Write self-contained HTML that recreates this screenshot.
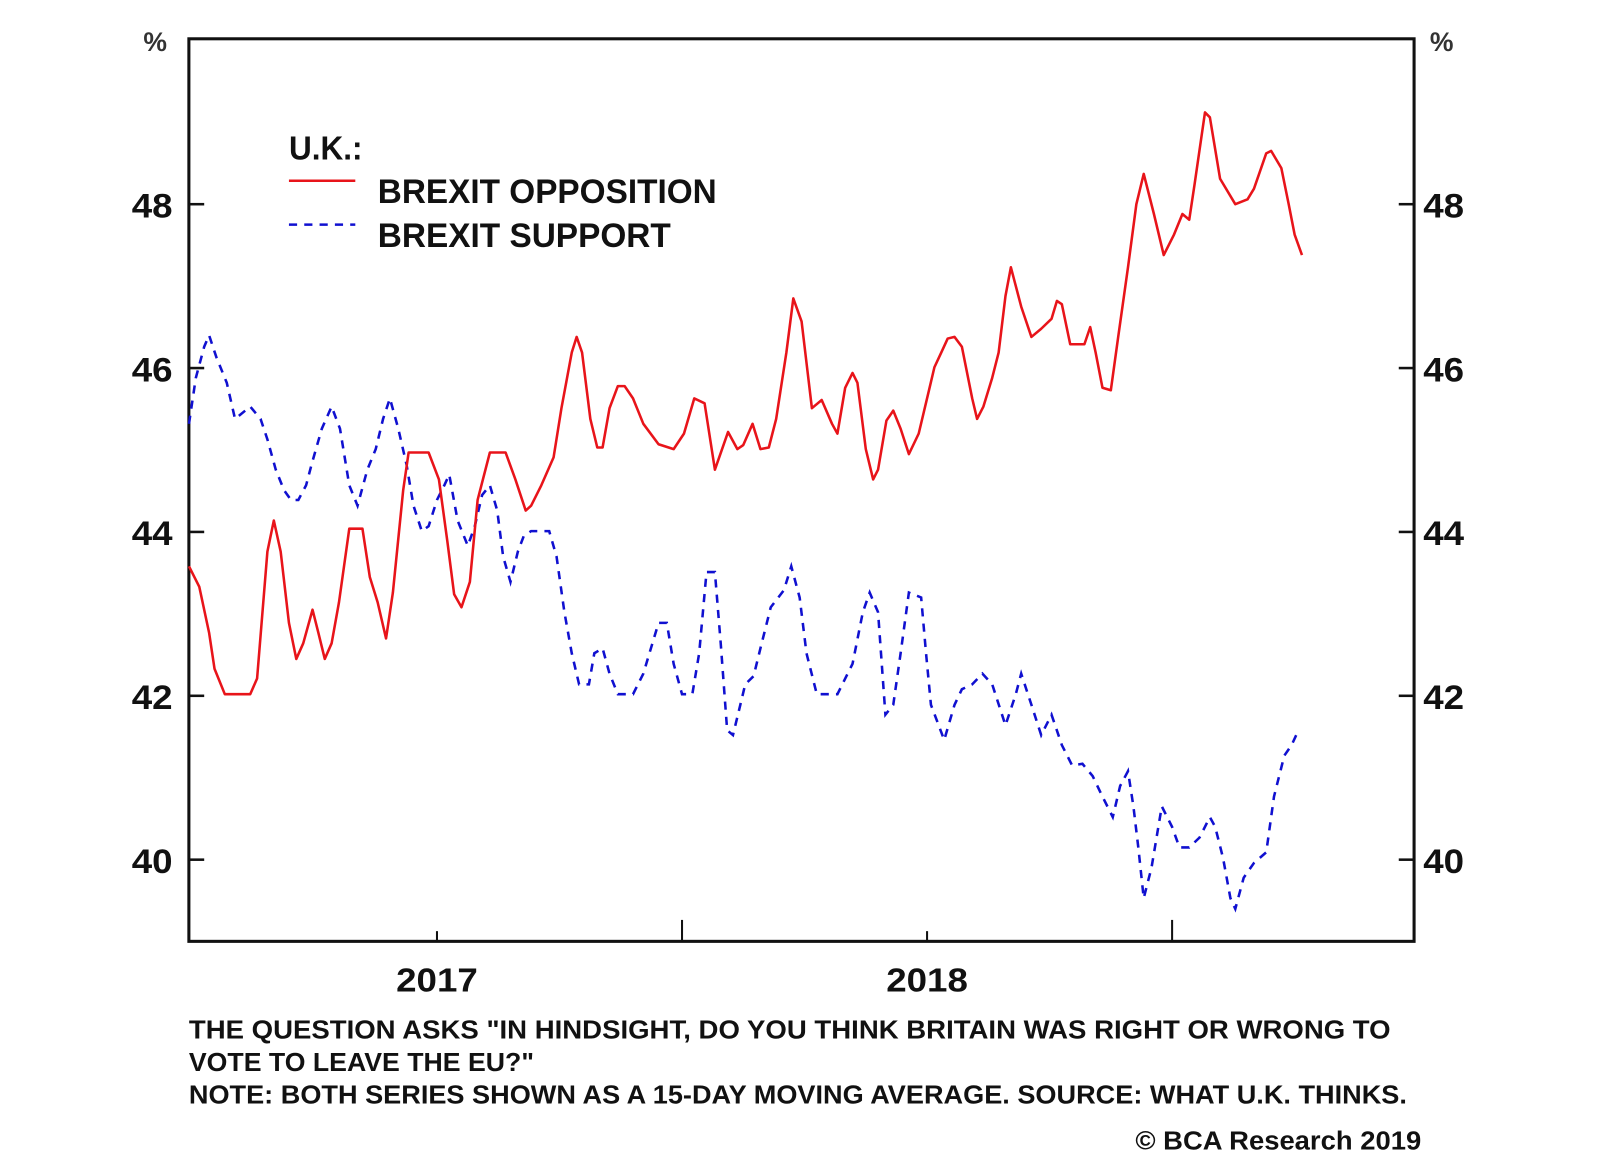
<!DOCTYPE html>
<html><head><meta charset="utf-8"><style>
html,body{margin:0;padding:0;background:#fff;}
svg{display:block;font-family:"Liberation Sans",Arial,sans-serif;font-weight:bold;}
</style></head><body>
<svg id="chart" width="1600" height="1153" viewBox="0 0 1567.1 1129.3" preserveAspectRatio="none" xmlns="http://www.w3.org/2000/svg">
<rect width="1567.1" height="1129.3" fill="#fff"/>
<g id="axes"></g>
<g id="series"></g>
<g>
  <text x="283" y="156" font-size="33" textLength="72" lengthAdjust="spacingAndGlyphs" fill="#111">U.K.:</text>
  <line x1="283" y1="177" x2="348" y2="177" stroke="#e8141a" stroke-width="2.5"/>
  <text x="370" y="199" font-size="34" textLength="332" lengthAdjust="spacingAndGlyphs" fill="#111">BREXIT OPPOSITION</text>
  <line x1="283" y1="220" x2="348" y2="220" stroke="#1010d0" stroke-width="2.5" stroke-dasharray="8,7"/>
  <text x="370" y="242" font-size="34" textLength="287" lengthAdjust="spacingAndGlyphs" fill="#111">BREXIT SUPPORT</text>
</g>
<g fill="#111" font-size="25">
  <text x="185" y="1017" textLength="1177" lengthAdjust="spacingAndGlyphs">THE QUESTION ASKS "IN HINDSIGHT, DO YOU THINK BRITAIN WAS RIGHT OR WRONG TO</text>
  <text x="185" y="1049" textLength="338" lengthAdjust="spacingAndGlyphs">VOTE TO LEAVE THE EU?"</text>
  <text x="185" y="1081" textLength="1193" lengthAdjust="spacingAndGlyphs">NOTE: BOTH SERIES SHOWN AS A 15-DAY MOVING AVERAGE. SOURCE: WHAT U.K. THINKS.</text>
  <text x="1112" y="1126" textLength="280" lengthAdjust="spacingAndGlyphs">© BCA Research 2019</text>
</g>
</svg>
<script>
const yTicks = [40, 42, 44, 46, 48];
const xTickMajor = [2017.0, 2018.0];
const xTickLabels = ["2017", "2018"];
const xTickMinor = [2017.5, 2018.5];
const oppDates = [2016.494,2016.515,2016.535,2016.546,2016.567,2016.619,2016.633,2016.654,2016.667,2016.681,2016.698,2016.713,2016.727,2016.746,2016.758,2016.771,2016.785,2016.800,2016.821,2016.848,2016.863,2016.879,2016.896,2016.910,2016.931,2016.942,2016.983,2017.004,2017.021,2017.035,2017.050,2017.067,2017.083,2017.108,2017.140,2017.160,2017.181,2017.192,2017.213,2017.238,2017.254,2017.275,2017.285,2017.296,2017.313,2017.327,2017.338,2017.352,2017.369,2017.383,2017.400,2017.421,2017.452,2017.483,2017.504,2017.525,2017.546,2017.567,2017.594,2017.613,2017.625,2017.644,2017.660,2017.677,2017.692,2017.713,2017.727,2017.744,2017.765,2017.785,2017.806,2017.817,2017.833,2017.848,2017.858,2017.875,2017.890,2017.900,2017.917,2017.931,2017.946,2017.963,2017.983,2018.004,2018.015,2018.029,2018.042,2018.056,2018.071,2018.092,2018.102,2018.115,2018.133,2018.146,2018.160,2018.171,2018.192,2018.213,2018.233,2018.254,2018.265,2018.275,2018.292,2018.321,2018.333,2018.344,2018.358,2018.375,2018.390,2018.410,2018.427,2018.442,2018.463,2018.483,2018.504,2018.521,2018.535,2018.546,2018.567,2018.577,2018.598,2018.629,2018.654,2018.667,2018.692,2018.702,2018.723,2018.738,2018.750,2018.765];
const oppValues = [43.58,43.33,42.77,42.33,42.02,42.02,42.21,43.76,44.14,43.76,42.89,42.45,42.64,43.05,42.77,42.45,42.64,43.14,44.04,44.04,43.45,43.14,42.70,43.26,44.51,44.97,44.97,44.64,43.89,43.24,43.08,43.39,44.39,44.97,44.97,44.64,44.26,44.32,44.57,44.91,45.51,46.19,46.38,46.19,45.38,45.03,45.03,45.51,45.78,45.78,45.63,45.32,45.07,45.01,45.20,45.63,45.57,44.76,45.22,45.01,45.06,45.32,45.01,45.03,45.38,46.19,46.85,46.57,45.51,45.61,45.32,45.20,45.76,45.94,45.82,45.01,44.64,44.76,45.36,45.48,45.26,44.95,45.20,45.73,46.01,46.19,46.36,46.38,46.26,45.63,45.38,45.53,45.88,46.19,46.88,47.23,46.75,46.38,46.48,46.60,46.82,46.78,46.29,46.29,46.50,46.19,45.76,45.73,46.38,47.23,48.00,48.37,47.88,47.38,47.63,47.88,47.81,48.25,49.12,49.06,48.31,48.00,48.06,48.19,48.62,48.65,48.44,48.00,47.63,47.38];
const supDates = [2016.494,2016.508,2016.525,2016.535,2016.550,2016.571,2016.588,2016.619,2016.640,2016.654,2016.671,2016.688,2016.702,2016.717,2016.733,2016.744,2016.765,2016.785,2016.802,2016.821,2016.838,2016.858,2016.875,2016.890,2016.904,2016.921,2016.938,2016.952,2016.969,2016.983,2017.000,2017.015,2017.025,2017.042,2017.063,2017.077,2017.092,2017.108,2017.123,2017.135,2017.150,2017.165,2017.177,2017.192,2017.229,2017.244,2017.260,2017.275,2017.290,2017.310,2017.321,2017.338,2017.352,2017.369,2017.400,2017.421,2017.452,2017.469,2017.483,2017.500,2017.521,2017.535,2017.550,2017.567,2017.579,2017.592,2017.604,2017.619,2017.629,2017.646,2017.660,2017.681,2017.708,2017.723,2017.740,2017.754,2017.775,2017.817,2017.848,2017.869,2017.883,2017.900,2017.915,2017.931,2017.946,2017.963,2017.988,2017.998,2018.008,2018.035,2018.056,2018.071,2018.092,2018.113,2018.133,2018.160,2018.181,2018.192,2018.213,2018.233,2018.254,2018.275,2018.296,2018.317,2018.338,2018.358,2018.379,2018.394,2018.410,2018.421,2018.431,2018.442,2018.458,2018.479,2018.500,2018.515,2018.535,2018.556,2018.577,2018.588,2018.604,2018.619,2018.629,2018.646,2018.667,2018.692,2018.708,2018.729,2018.744,2018.758];
const supValues = [45.32,45.88,46.26,46.40,46.13,45.82,45.38,45.53,45.38,45.13,44.76,44.51,44.39,44.39,44.57,44.82,45.26,45.53,45.26,44.57,44.32,44.76,45.01,45.38,45.63,45.26,44.82,44.32,44.01,44.07,44.39,44.57,44.70,44.14,43.83,44.07,44.45,44.57,44.26,43.70,43.39,43.76,43.95,44.01,44.01,43.70,43.02,42.52,42.14,42.14,42.52,42.58,42.27,42.02,42.02,42.27,42.89,42.89,42.39,42.02,42.02,42.52,43.51,43.51,42.64,41.58,41.52,41.89,42.14,42.24,42.58,43.08,43.29,43.58,43.20,42.52,42.02,42.02,42.39,43.02,43.26,43.02,41.77,41.89,42.52,43.26,43.20,42.52,41.89,41.46,41.89,42.08,42.14,42.27,42.14,41.64,42.02,42.27,41.89,41.52,41.77,41.40,41.15,41.17,41.02,40.77,40.52,40.90,41.08,40.65,40.15,39.53,39.90,40.65,40.40,40.15,40.15,40.27,40.52,40.40,40.02,39.53,39.40,39.78,39.96,40.09,40.77,41.27,41.40,41.58];

const NS = "http://www.w3.org/2000/svg";
const L = 185, R = 1385, T = 38, B = 922;
function xS(t){ return 188 + (t - 2016.5) * 480; }
function yS(v){ return 200 + (48 - v) * 80.25; }
function mk(tag, attrs, parent){ const e = document.createElementNS(NS, tag); for (const k in attrs) e.setAttribute(k, attrs[k]); parent.appendChild(e); return e; }
const ax = document.getElementById('axes');
const frame = mk('rect', {x:L, y:T, width:R-L, height:B-T, fill:'none', stroke:'#111', 'stroke-width':3}, ax);


yTicks.forEach(v => {
  const y = yS(v);
  const tl = mk('line', {x1:L, y1:y, x2:L+15, y2:y, stroke:'#111', 'stroke-width':2.5}, ax);
  
  
  const tr = mk('line', {x1:R-15, y1:y, x2:R, y2:y, stroke:'#111', 'stroke-width':2.5}, ax);
  
  
  const a = mk('text', {x:149, y:y+13, 'font-size':34, 'text-anchor':'middle', fill:'#111', textLength:40, lengthAdjust:'spacingAndGlyphs'}, ax);
  a.textContent = v;
  
  
  const b = mk('text', {x:1414, y:y+13, 'font-size':34, 'text-anchor':'middle', fill:'#111', textLength:40, lengthAdjust:'spacingAndGlyphs'}, ax);
  b.textContent = v;
  
  
});
['152','1412'].forEach((x, i) => {
  const p = mk('text', {x:x, y:50, 'font-size':26, 'text-anchor':'middle', fill:'#333'}, ax);
  p.textContent = '%';
  
  
});
xTickMajor.forEach((t, i) => {
  const x = xS(t);
  const l = mk('line', {x1:x, y1:B, x2:x, y2:B-10, stroke:'#111', 'stroke-width':2}, ax);
  
  
  const tx = mk('text', {x:x, y:971, 'font-size':33, 'text-anchor':'middle', fill:'#111', textLength:80, lengthAdjust:'spacingAndGlyphs'}, ax);
  tx.textContent = xTickLabels[i];
  
  
});
xTickMinor.forEach(t => {
  const x = xS(t);
  const l = mk('line', {x1:x, y1:B, x2:x, y2:B-21, stroke:'#111', 'stroke-width':2}, ax);
  
  
});
const sg = document.getElementById('series');
function pts(d, v){ return d.map((t, i) => xS(t).toFixed(1) + ',' + yS(v[i]).toFixed(1)).join(' '); }
const sup = mk('polyline', {points:pts(supDates, supValues), fill:'none', stroke:'#1010d0', 'stroke-width':2.5, 'stroke-dasharray':'8,7'}, sg);


const opp = mk('polyline', {points:pts(oppDates, oppValues), fill:'none', stroke:'#e8141a', 'stroke-width':2.5, 'stroke-linejoin':'round'}, sg);


</script>
</body></html>
